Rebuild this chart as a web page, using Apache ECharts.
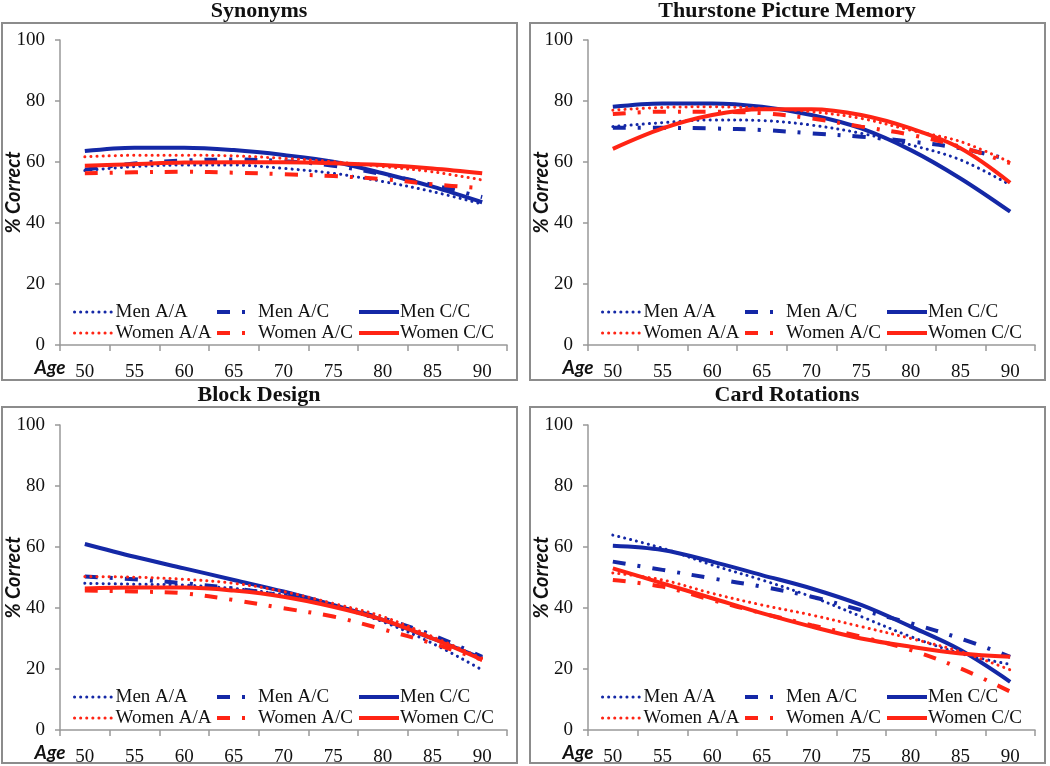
<!DOCTYPE html>
<html><head><meta charset="utf-8">
<script src="https://cdn.jsdelivr.net/npm/echarts@6/dist/echarts.min.js"></script>
<style>html,body{margin:0;padding:0;background:#fff}#c{width:1050px;height:766px}</style>
</head><body><div id="c"></div>
<script>
// ---------- data ----------
const ages = ['50','55','60','65','70','75','80','85','90'];
const yTickMin = 0, yTickMax = 100, yTickStep = 20;
const panelTitles = ['Synonyms', 'Thurstone Picture Memory', 'Block Design', 'Card Rotations'];
const seriesNames = ['Men A/A', 'Men A/C', 'Men C/C', 'Women A/A', 'Women A/C', 'Women C/C'];

// Synonyms
const synMenAA   = [57.2, 58.5, 59.0, 59.0, 57.9, 56.3, 53.6, 50.3, 46.2];
const synMenAC   = [57.5, 59.5, 60.5, 60.8, 60.3, 58.8, 56.0, 52.5, 48.5];
const synMenCC   = [63.6, 64.7, 64.7, 63.9, 62.3, 60.1, 56.3, 51.9, 46.8];
const synWomAA   = [61.7, 62.2, 62.2, 62.0, 61.2, 60.1, 58.5, 56.8, 54.1];
const synWomAC   = [56.3, 56.6, 56.8, 56.5, 56.0, 55.4, 54.4, 52.7, 51.4];
const synWomCC   = [58.8, 59.3, 59.8, 59.9, 59.9, 59.6, 59.0, 57.9, 56.3];
// Thurstone Picture Memory
const thuMenAA   = [71.6, 72.9, 73.8, 73.6, 72.1, 69.4, 65.6, 60.7, 52.5];
const thuMenAC   = [71.2, 71.2, 71.0, 70.5, 69.4, 68.3, 66.7, 64.5, 60.7];
const thuMenCC   = [78.1, 79.2, 79.2, 78.1, 75.4, 71.0, 63.9, 54.6, 43.7];
const thuWomAA   = [77.0, 77.9, 78.1, 77.6, 76.5, 74.3, 70.4, 66.7, 59.9];
const thuWomAC   = [75.7, 76.5, 76.5, 76.0, 74.3, 71.6, 68.9, 65.0, 59.6];
const thuWomCC   = [64.3, 71.0, 75.4, 77.3, 77.3, 75.4, 71.0, 64.5, 53.2];
// Block Design
const bloMenAA   = [48.1, 47.8, 47.5, 46.4, 44.3, 40.7, 35.5, 28.4, 19.7];
const bloMenAC   = [50.3, 49.4, 48.1, 46.4, 44.0, 40.7, 36.6, 31.1, 24.0];
const bloMenCC   = [61.0, 56.8, 53.0, 49.2, 45.4, 41.0, 36.1, 30.0, 23.5];
const bloWomAA   = [50.3, 50.1, 49.4, 48.1, 45.4, 41.5, 37.2, 30.6, 23.5];
const bloWomAC   = [45.7, 45.4, 44.8, 42.6, 39.9, 37.2, 33.0, 28.4, 23.0];
const bloWomCC   = [46.4, 46.7, 46.7, 45.7, 43.7, 40.4, 36.1, 30.0, 23.0];
// Card Rotations
const carMenAA   = [63.9, 59.6, 54.1, 49.2, 43.7, 37.2, 30.6, 25.1, 21.5];
const carMenAC   = [55.2, 52.5, 49.7, 47.0, 43.7, 39.3, 35.0, 30.0, 24.0];
const carMenCC   = [60.4, 59.0, 55.2, 50.8, 46.4, 41.0, 33.9, 26.2, 15.8];
const carWomAA   = [51.5, 49.2, 44.8, 41.0, 37.7, 33.9, 30.0, 25.7, 19.7];
const carWomAC   = [49.2, 47.0, 42.6, 38.3, 34.4, 30.6, 26.2, 20.2, 12.6];
const carWomCC   = [53.0, 48.1, 43.2, 38.3, 33.9, 30.0, 27.3, 25.1, 24.0];

const panelData = [
  [synMenAA, synMenAC, synMenCC, synWomAA, synWomAC, synWomCC],
  [thuMenAA, thuMenAC, thuMenCC, thuWomAA, thuWomAC, thuWomCC],
  [bloMenAA, bloMenAC, bloMenCC, bloWomAA, bloWomAC, bloWomCC],
  [carMenAA, carMenAC, carMenCC, carWomAA, carWomAC, carWomCC]
];

// ---------- layout & style ----------
const BLUE = '#1428a6', RED = '#ff2414';
const typeStyles = [
  {width: 3, type: [0.1, 6], cap: 'round'},
  {width: 4, type: [13, 12, 3, 12], cap: 'butt'},
  {width: 4, type: 'solid', cap: 'butt'}
];
const lineStyles = [
  Object.assign({color: BLUE}, typeStyles[0]),
  Object.assign({color: BLUE}, typeStyles[1]),
  Object.assign({color: BLUE}, typeStyles[2]),
  Object.assign({color: RED}, typeStyles[0]),
  Object.assign({color: RED}, typeStyles[1]),
  Object.assign({color: RED}, typeStyles[2])
];
const panels = [
  {gx: 60,  gy: 40,  box: [2, 23, 515, 357],   titleX: 259, titleY: 11},
  {gx: 588, gy: 40,  box: [530, 23, 515, 357], titleX: 787, titleY: 11},
  {gx: 60,  gy: 425, box: [2, 407, 515, 356],  titleX: 259, titleY: 395},
  {gx: 588, gy: 425, box: [530, 407, 515, 356],titleX: 787, titleY: 395}
];
const GW = 447, GH = 305;
const serif = '"Liberation Serif", "DejaVu Serif", serif';
const sans = 'Lato, "Liberation Sans", sans-serif';

const grid = [], xAxis = [], yAxis = [], series = [], legend = [], graphic = [];
panels.forEach((p, i) => {
  grid.push({left: p.gx, top: p.gy, width: GW, height: GH, containLabel: false, outerBoundsMode: 'none'});
  xAxis.push({
    type: 'category', gridIndex: i, data: ages, boundaryGap: true,
    axisLine: {lineStyle: {color: '#999', width: 1.5}},
    axisTick: {show: true, length: 6, lineStyle: {color: '#999', width: 1.5}},
    axisLabel: {margin: 18, color: '#111', fontFamily: serif, fontSize: 19},
    splitLine: {show: false}
  });
  yAxis.push({
    type: 'value', gridIndex: i, min: yTickMin, max: yTickMax, interval: yTickStep,
    name: '% Correct', nameLocation: 'middle', nameGap: 36, nameMoveOverlap: false,
    nameTextStyle: {fontFamily: sans, fontWeight: 'bold', fontStyle: 'italic', fontSize: 20, color: '#111'},
    axisLine: {show: true, lineStyle: {color: '#999', width: 1.5}},
    axisTick: {show: true, length: 5, lineStyle: {color: '#999', width: 1.5}},
    axisLabel: {margin: 15, color: '#111', fontFamily: serif, fontSize: 19},
    splitLine: {show: false}
  });
  panelData[i].forEach((vals, k) => {
    series.push({
      name: seriesNames[k], type: 'line', xAxisIndex: i, yAxisIndex: i,
      data: vals, smooth: 0.35, symbol: 'none', lineStyle: lineStyles[k],
      itemStyle: {color: lineStyles[k].color}, z: 2 + k, silent: true, animation: false
    });
  });
  const colX = [13, 155, 297];
  for (let c = 0; c < 3; c++) {
    legend.push({
      data: [seriesNames[c], seriesNames[c + 3]],
      orient: 'vertical', left: p.gx + colX[c], top: p.gy + 262,
      itemWidth: 40, itemHeight: 14, itemGap: 1, padding: 0,
      itemStyle: {color: 'rgba(0,0,0,0)', borderWidth: 0, opacity: 0},
      lineStyle: {width: typeStyles[c].width, type: typeStyles[c].type, cap: typeStyles[c].cap},
      textStyle: {fontFamily: serif, fontSize: 19, color: '#111', lineHeight: 20, padding: [0, 0, 0, -4]},
      selectedMode: false
    });
  }
  graphic.push({
    type: 'rect', shape: {x: p.box[0], y: p.box[1], width: p.box[2], height: p.box[3]},
    style: {fill: null, stroke: '#8c8c8c', lineWidth: 2}, silent: true
  });
  graphic.push({
    type: 'text', x: p.titleX, y: p.titleY,
    style: {text: panelTitles[i], fontFamily: serif, fontWeight: 'bold', fontSize: 22, fill: '#111', align: 'center', verticalAlign: 'middle'}
  });
  graphic.push({
    type: 'text', x: p.gx - 10, y: p.gy + GH + 23,
    style: {text: 'Age', fontFamily: sans, fontWeight: 'bold', fontStyle: 'italic', fontSize: 19, fill: '#111', align: 'center', verticalAlign: 'middle'}
  });
});

const chart = echarts.init(document.getElementById('c'), null, {renderer: 'canvas'});
chart.setOption({
  backgroundColor: '#fff', animation: false,
  grid, xAxis, yAxis, series, legend, graphic
});
</script></body></html>
